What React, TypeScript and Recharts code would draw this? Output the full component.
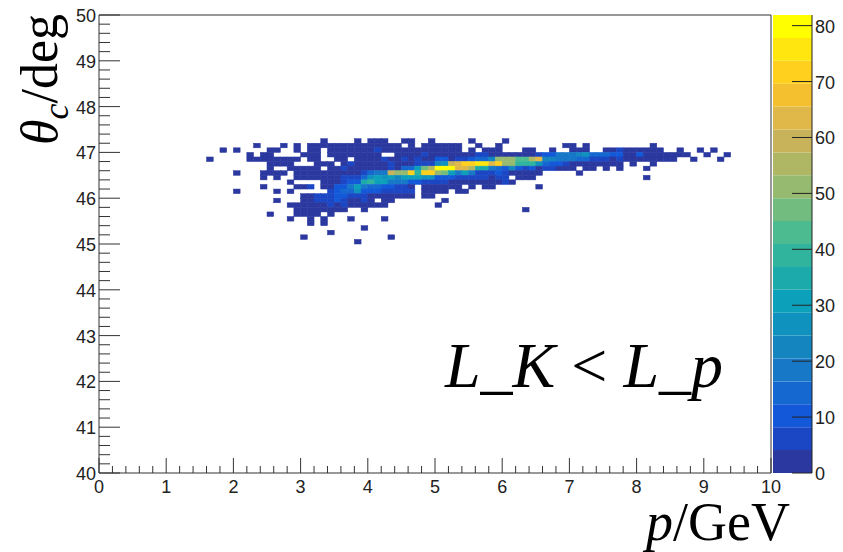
import React from "react";
import { ScatterChart, Scatter, XAxis, YAxis, BarChart, Bar, ReferenceLine } from "recharts";

// Each theta row: list of [first p bin, count, count, ...]; bins are 0.1 GeV and 0.1 deg wide.
const row72 = [[33,1],[38,1],[40,1,2,1],[45,1,2],[49,1],[55,1],[60,1]];
const row71 = [[23,1],[27,1],[29,1],[31,2,3,3,3,3,2,3,3,2,3,3,3,2,2],[46,2],[48,2,2,3,3,2,2],[56,1],[59,1],[69,2,2],[72,1],[82,1]];
const row70 = [[18,1],[20,1],[25,2,2],[29,1],[31,2,2],[34,2,3,3,3,3,3,3],[41,5],[42,3,3,3,3,3,3,3,3,3,3,3,2],[55,1],[57,1,1,1],[63,1,1],[67,1],[70,2,2,2],[75,2,2,5,2,2,2,2,2,2],[86,1],[89,1],[91,1]];
const row69 = [[22,1],[24,2,2],[30,2,2,3],[34,3,3,3,3,3,3,3,3],[44,3,3,3,3,6,3,3,3,3,3],[54,3,3,5,6,3,3,3,3,3,3,3,8,12,12,18,18,18,22,25,15,15,15,10,12,4,4,10,3,3,3,3,3,3,2],[90,1],[93,1]];
const row68 = [[16,1],[22,1,2,2,2,2,2,2,2],[31,2,2],[35,2,3],[38,3,3,3,3,8,3,3,6,3,5,3,3,12,10,4,8,8,12,15,15,22,50,52,50,42,42,55,62,22,22,20,18,18,16,14,8,8,8,3,8,3,3,3,3,3,3,3,3],[88,1],[92,1]];
const row67 = [[25,2,2,2,2],[32,2,2,3],[36,3,6,3,3,3,3,3,6,3,3,3,8,8,8,22,28,58,65,72,72,75,75,62,70,50,50,38,38,40,28,15,10,12,8,3,3,3,3,3,3,3,3],[79,2],[82,1]];
const row66 = [[25,1],[28,2,2,2,2,2],[34,2,2,6,3,3,3,3,3,3,6,3,15,15,30,48,55,82,82,82,62,62,55,35,35,20,15,12,22,12,8,12,3,8,8,3,3,3],[72,3,3],[75,3],[77,3],[81,1]];
const row65 = [[20,1],[24,2,2,2,2],[29,2,2,3,3,3,3,3,3,3,3,8,14,18,20,58,50,52,70,40,70,70,52,48,30,20,30,20,8,8,8,12,5,3,3,3,3,3],[71,1]];
const row64 = [[24,1],[26,1],[29,2,3,3,3,3,3,3,6,6,6,15,25,30,28,30,22,30,30,30,25,25,12,10,10,8,8,8,6,6,3,6,6],[62,3,3,3],[81,1]];
const row63 = [[28,1],[33,2,2,2,8,12,12,35,38,30,30,20,20,20,12,12,8,5,5,5,3,3,3,3,3,3,3,3,6,3]];
const row62 = [[24,1],[29,2,2,5],[33,2,2,12,12,20,30,18,15,15,10,10,8,8,3],[48,3,3,3,3,3,3],[55,1],[57,1,1],[65,1]];
const row61 = [[20,1],[26,1],[28,1],[34,8,12,15,15,28,12,10,10,8,8,6,6,8],[48,2,2,2,2],[53,1,1]];
const row60 = [[30,2,2,5,6,8,10,10,6,6,8,3,3,3,3,3,3,3],[48,3,3]];
const row59 = [[26,1],[30,2,2,6,6,8,12,7,3,3,8,3],[42,3,2],[51,1]];
const row58 = [[28,2,2,2,2,2,2,5,2,5,2,2,2,2,2,2],[50,1]];
const row57 = [[29,2,2,2,2,2,2,2,2],[39,2],[63,1]];
const row56 = [[25,1],[29,2,2,2,2],[34,1]];
const row55 = [[28,1],[31,1],[33,1],[37,1],[42,1]];
const row54 = [[31,1],[33,1]];
const row53 = [[39,1]];
const row52 = [[34,1]];
const row51 = [[30,1],[43,1]];
const row50 = [[38,1]];

const rows: [number, number[][]][] = [
  [72,row72],[71,row71],[70,row70],[69,row69],[68,row68],[67,row67],[66,row66],[65,row65],[64,row64],[63,row63],
  [62,row62],[61,row61],[60,row60],[59,row59],[58,row58],[57,row57],[56,row56],[55,row55],[54,row54],[53,row53],
  [52,row52],[51,row51],[50,row50],
];

const bandColors = [
  "#2a389f","#1b46c4","#1258d8","#1568d0","#1778c8","#1585c0","#0f93be","#0da0bb","#1caaaa","#30b49e",
  "#4dbb90","#72bc80","#96ba70","#afb765","#c9b35a","#e0b84a","#f5c030","#ffd01e","#ffe60f","#ffff00",
];
const bandTop = 81.9;
const bandWidth = bandTop / bandColors.length;
const colorForCount = (c: number) => bandColors[Math.min(bandColors.length - 1, Math.floor(c / bandWidth))];

const cells: { p: number; theta: number; count: number }[] = [];
rows.forEach(([thetaBin, segments]) => {
  segments.forEach(([start, ...counts]) => {
    counts.forEach((count, k) => {
      cells.push({ p: (start + k + 0.5) / 10, theta: 40 + (thetaBin + 0.5) / 10, count });
    });
  });
});

const pTicks = Array.from({ length: 51 }, (_, i) => i / 5);
const thetaTicks = Array.from({ length: 51 }, (_, i) => 40 + i / 5);
const zTicks = [0, 10, 20, 30, 40, 50, 60, 70, 80];
const bandRow = [Object.fromEntries(bandColors.map((_, i) => [`b${i}`, bandWidth]))];

const W = 843, H = 552;
const L = 99, T = 15, R = 771, B = 473;
const CELL_W = (R - L) / 100, CELL_H = (B - T) / 100;
const AXIS = "#333";
const LABEL = "#222";
const SANS = "'Liberation Sans', Arial, sans-serif";
const SERIF = "'Liberation Serif', 'Times New Roman', serif";

const XTick = ({ x, y, payload }: any) => {
  const major = Math.abs(payload.value - Math.round(payload.value)) < 1e-6;
  return (
    <g>
      <line x1={x} x2={x} y1={y} y2={y - (major ? 15 : 7)} stroke={AXIS} strokeWidth={1} />
      {major && <text x={x} y={y + 20} textAnchor="middle" fontFamily={SANS} fontSize={18} fill={LABEL}>{Math.round(payload.value)}</text>}
    </g>
  );
};
const YTick = ({ x, y, payload }: any) => {
  const major = Math.abs(payload.value - Math.round(payload.value)) < 1e-6;
  return (
    <g>
      <line x1={x} x2={x + (major ? 21 : 11)} y1={y} y2={y} stroke={AXIS} strokeWidth={1} />
      {major && <text x={x - 3} y={y + 7} textAnchor="end" fontFamily={SANS} fontSize={18} fill={LABEL}>{Math.round(payload.value)}</text>}
    </g>
  );
};
const ZTick = ({ x, y, payload }: any) => (
  <g>
    <line x1={x} x2={x - 20} y1={y} y2={y} stroke="#222" strokeWidth={1} />
    <text x={x + 3} y={y + 7} fontFamily={SANS} fontSize={18} fill={LABEL}>{payload.value}</text>
  </g>
);
const Cell2D = ({ cx, cy, payload }: any) => (
  <rect
    x={cx - CELL_W / 2}
    y={cy - CELL_H / 2}
    width={CELL_W}
    height={CELL_H}
    fill={colorForCount(payload.count)}
    stroke={colorForCount(payload.count)}
    strokeWidth={0.5}
  />
);

export default function App() {
  return (
    <div style={{ position: "absolute", left: 0, top: 0, width: W, height: H, background: "#fff" }}>
      <div style={{ position: "absolute", left: 0, top: 0 }}>
        <ScatterChart width={W} height={H} margin={{ left: 0, top: T, right: W - R, bottom: 0 }}>
          <XAxis type="number" dataKey="p" domain={[0, 10]} ticks={pTicks} interval={0} height={H - B}
            tickSize={0} tickMargin={0} tick={<XTick />} stroke={AXIS} allowDataOverflow />
          <YAxis type="number" dataKey="theta" domain={[40, 50]} ticks={thetaTicks} interval={0} width={L}
            tickSize={0} tickMargin={0} tick={<YTick />} stroke={AXIS} allowDataOverflow />
          <ReferenceLine y={50} stroke={AXIS} />
          <ReferenceLine x={10} stroke={AXIS} />
          <Scatter data={cells} isAnimationActive={false} shape={<Cell2D />} />
        </ScatterChart>
      </div>
      <div style={{ position: "absolute", left: 0, top: 0 }}>
        <BarChart width={W} height={H} data={bandRow} barCategoryGap={0}
          margin={{ left: 773, top: T, right: 0, bottom: H - B }}>
          <XAxis hide dataKey={() => "z"} />
          <YAxis orientation="right" width={W - 812} domain={[0, bandTop]} ticks={zTicks} interval={0}
            tickSize={0} tickMargin={0} tick={<ZTick />} stroke="#222" allowDataOverflow />
          {bandColors.map((c, i) => (
            <Bar key={c} dataKey={`b${i}`} stackId="z" fill={c} isAnimationActive={false} />
          ))}
        </BarChart>
      </div>
      <svg width={W} height={H} style={{ position: "absolute", left: 0, top: 0, pointerEvents: "none" }}>
        <text x={445} y={387} fontFamily={SERIF} fontSize={64} fill="#000">
          <tspan fontStyle="italic">L_K</tspan>
          <tspan> {"<"} </tspan>
          <tspan fontStyle="italic">L_p</tspan>
        </text>
        <text x={646} y={540} fontFamily={SERIF} fontSize={54} fill="#000">
          <tspan fontStyle="italic">p</tspan>
          <tspan>/GeV</tspan>
        </text>
        <text transform="translate(57,145) rotate(-90)" fontFamily={SERIF} fontSize={52} fill="#000">
          <tspan fontStyle="italic">θ</tspan>
          <tspan fontStyle="italic" fontSize={36} dy={11}>c</tspan>
          <tspan dy={-11}>/deg</tspan>
        </text>
      </svg>
    </div>
  );
}
